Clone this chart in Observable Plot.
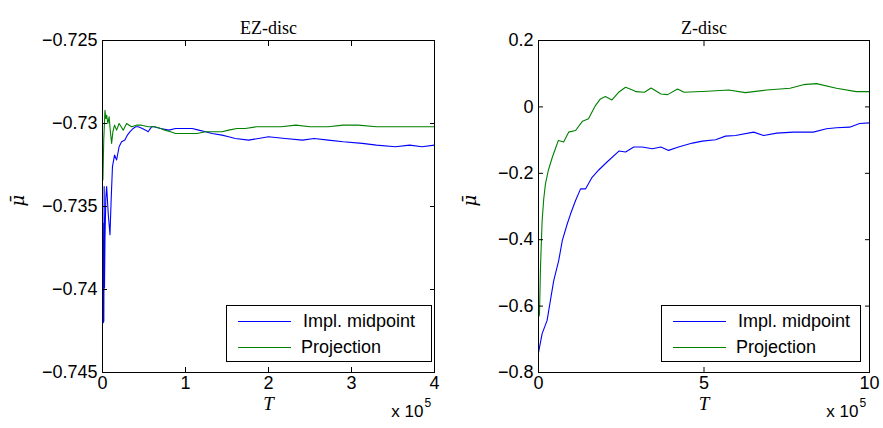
<!DOCTYPE html>
<html>
<head>
<meta charset="utf-8">
<script src="https://cdn.jsdelivr.net/npm/d3@7"></script>
<script src="https://cdn.jsdelivr.net/npm/@observablehq/plot@0.6"></script>
<style>
  body { margin: 0; background: #fff; }
  #wrap { position: relative; width: 883px; height: 428px; overflow: hidden; }
  #wrap svg { position: absolute; top: 0; }
  .legend { position: absolute; background: #fff; border: 1px solid #000; box-sizing: border-box;
            font-family: "Liberation Sans", Arial, sans-serif; font-size: 18px; color: #000; }
  .legend .row { position: absolute; left: 0; height: 22px; line-height: 22px; white-space: nowrap; }
  .legend .swatch { position: absolute; top: 11px; height: 1px; }
  .legend .lbl { position: absolute; top: 0; }
</style>
</head>
<body>
<div id="wrap"></div>
<script>
// ---------- data (T in units of 1e5) ----------
const panelTitles = ["EZ-disc", "Z-disc"];
const seriesNames = ["Impl. midpoint", "Projection"];
const seriesColors = ["#0000ff", "#008000"];

const ezTicksX = [0, 1, 2, 3, 4];
const ezTicksY = [-0.745, -0.74, -0.735, -0.73, -0.725];
const zTicksX = [0, 5, 10];
const zTicksY = [-0.8, -0.6, -0.4, -0.2, 0, 0.2];

const ezImplicit = [
  [0.004,-0.7360],[0.010,-0.7420],[0.016,-0.7419],[0.020,-0.7338],[0.024,-0.7399],[0.030,-0.7369],
  [0.040,-0.7345],[0.050,-0.7338],[0.070,-0.7355],[0.090,-0.7367],[0.105,-0.7345],[0.120,-0.7326],
  [0.145,-0.7319],[0.170,-0.7322],[0.200,-0.7314],[0.230,-0.7311],[0.270,-0.7310],[0.300,-0.7307],
  [0.330,-0.7305],[0.370,-0.7303],[0.400,-0.7302],[0.430,-0.7302],[0.480,-0.7303],[0.520,-0.7304],
  [0.550,-0.7305],[0.590,-0.7302],[0.620,-0.7302],[0.700,-0.7303],[0.800,-0.7304],[0.880,-0.7303],
  [0.960,-0.7303],[1.020,-0.7303],[1.080,-0.7303],[1.160,-0.7304],[1.240,-0.7305],[1.320,-0.7306],
  [1.440,-0.7307],[1.520,-0.7308],[1.600,-0.7309],[1.760,-0.7310],[1.880,-0.7309],[2.000,-0.7308],
  [2.200,-0.7309],[2.410,-0.7310],[2.550,-0.7309],[2.720,-0.7310],[2.900,-0.7311],[3.130,-0.7312],
  [3.300,-0.7313],[3.530,-0.7314],[3.700,-0.7313],[3.850,-0.7314],[4.000,-0.7313]
];
const ezProjection = [
  [0.005,-0.7334],[0.015,-0.7310],[0.030,-0.7292],[0.040,-0.7297],[0.050,-0.7295],[0.065,-0.7300],
  [0.080,-0.7296],[0.095,-0.7305],[0.110,-0.7312],[0.125,-0.7305],[0.145,-0.7301],[0.170,-0.7304],
  [0.200,-0.7300],[0.225,-0.7302],[0.250,-0.7304],[0.290,-0.7300],[0.350,-0.7302],[0.410,-0.7301],
  [0.470,-0.7301],[0.550,-0.7302],[0.630,-0.7302],[0.700,-0.7303],[0.750,-0.7304],[0.820,-0.7305],
  [0.880,-0.7306],[1.000,-0.7306],[1.140,-0.7306],[1.240,-0.7305],[1.350,-0.7305],[1.440,-0.7305],
  [1.520,-0.7304],[1.620,-0.7303],[1.720,-0.7303],[1.850,-0.7302],[2.000,-0.7302],[2.150,-0.7302],
  [2.330,-0.7301],[2.500,-0.7302],[2.720,-0.7302],[2.900,-0.7301],[3.080,-0.7301],[3.300,-0.7302],
  [3.530,-0.7302],[3.750,-0.7302],[4.000,-0.7302]
];
const zImplicit = [
  [0.00,-0.740],[0.11,-0.683],[0.26,-0.643],[0.36,-0.583],[0.46,-0.523],[0.61,-0.463],[0.72,-0.402],
  [0.87,-0.352],[0.97,-0.322],[1.12,-0.282],[1.27,-0.247],[1.42,-0.247],[1.62,-0.212],[1.82,-0.190],
  [2.07,-0.166],[2.43,-0.133],[2.63,-0.136],[2.88,-0.121],[3.13,-0.121],[3.44,-0.126],[3.70,-0.121],
  [3.93,-0.131],[4.23,-0.121],[4.65,-0.109],[4.95,-0.103],[5.35,-0.099],[5.65,-0.088],[5.95,-0.086],
  [6.50,-0.076],[6.80,-0.086],[7.20,-0.079],[7.70,-0.076],[8.30,-0.076],[8.70,-0.066],[9.00,-0.063],
  [9.40,-0.061],[9.70,-0.050],[10.0,-0.048]
];
const zProjection = [
  [0.02,-0.630],[0.03,-0.622],[0.06,-0.483],[0.11,-0.342],[0.16,-0.275],[0.21,-0.232],[0.30,-0.190],
  [0.42,-0.151],[0.51,-0.126],[0.60,-0.101],[0.76,-0.106],[0.91,-0.076],[1.12,-0.071],[1.33,-0.043],
  [1.51,-0.036],[1.72,0.004],[1.87,0.024],[2.02,0.031],[2.22,0.021],[2.42,0.044],[2.63,0.059],
  [2.84,0.051],[2.95,0.046],[3.20,0.044],[3.40,0.057],[3.70,0.039],[3.90,0.037],[4.20,0.054],
  [4.40,0.044],[5.10,0.047],[5.75,0.051],[6.25,0.043],[6.90,0.051],[7.60,0.056],[8.00,0.067],
  [8.40,0.070],[9.00,0.056],[9.60,0.046],[10.0,0.046]
];

// ---------- drawing ----------
const sans = "'Liberation Sans', Arial, sans-serif";
const serif = "'Liberation Serif', 'Times New Roman', serif";
const fmt = d => d3.format("~f")(d).replace("-", "\u2212");

function panel({title, xDomain, yDomain, xTicks, yTicks, series, left, width, marginLeft, marginRight, ylabelDx}) {
  const svg = Plot.plot({
    width, height: 428,
    marginLeft, marginRight, marginTop: 40, marginBottom: 56,
    style: {fontFamily: sans, fontSize: "18px", color: "#000", background: "transparent"},
    x: {domain: xDomain, ticks: xTicks},
    y: {domain: yDomain, ticks: yTicks},
    marks: [
      ...series.map((s, i) => Plot.line(s, {x: d => d[0], y: d => d[1], stroke: seriesColors[i], strokeWidth: 1.1})),
      Plot.frame({stroke: "#000", strokeWidth: 1}),
      Plot.axisX(xTicks, {anchor: "bottom", tickSize: -5, tickPadding: 9, tickFormat: fmt, label: null, fontSize: 18}),
      Plot.axisX(xTicks, {anchor: "top", tickSize: -5, tickFormat: () => "", label: null}),
      Plot.axisY(yTicks, {anchor: "left", tickSize: -5, tickPadding: 10, tickFormat: fmt, label: null, fontSize: 18}),
      Plot.axisY(yTicks, {anchor: "right", tickSize: -5, tickFormat: () => "", label: null}),
      Plot.text([title], {frameAnchor: "top", dy: -19, fontFamily: serif, fontSize: 18}),
      Plot.text(["T"], {frameAnchor: "bottom", dy: 37, fontFamily: serif, fontStyle: "italic", fontSize: 19}),
      Plot.text(["x 10"], {frameAnchor: "bottom-right", textAnchor: "end", dx: -11, dy: 44, fontFamily: sans, fontSize: 17}),
      Plot.text(["5"], {frameAnchor: "bottom-right", textAnchor: "start", dx: -10, dy: 34, fontFamily: sans, fontSize: 12}),
      Plot.text(["\u03BC\u0304"], {frameAnchor: "left", rotate: -90, dx: ylabelDx, dy: 0, fontFamily: "'DejaVu Serif', serif", fontStyle: "italic", fontSize: 18})
    ]
  });
  svg.style.left = left + "px";
  return svg;
}

const wrap = document.getElementById("wrap");
wrap.appendChild(panel({
  title: panelTitles[0], xDomain: [0, 4], yDomain: [-0.745, -0.725],
  xTicks: ezTicksX, yTicks: ezTicksY, series: [ezImplicit, ezProjection],
  left: 0, width: 441, marginLeft: 102, marginRight: 7, ylabelDx: -84
}));
wrap.appendChild(panel({
  title: panelTitles[1], xDomain: [0, 10], yDomain: [-0.8, 0.2],
  xTicks: zTicksX, yTicks: zTicksY, series: [zImplicit, zProjection],
  left: 441, width: 442, marginLeft: 97, marginRight: 14, ylabelDx: -68
}));

function legend(left, top, w, h) {
  const box = document.createElement("div");
  box.className = "legend";
  Object.assign(box.style, {left: left + "px", top: top + "px", width: w + "px", height: h + "px"});
  seriesNames.forEach((name, i) => {
    const row = document.createElement("div");
    row.className = "row";
    row.style.top = (4 + i * 26) + "px";
    row.style.width = w + "px";
    const sw = document.createElement("span");
    sw.className = "swatch";
    Object.assign(sw.style, {left: "11px", width: "53px", background: seriesColors[i]});
    const lb = document.createElement("span");
    lb.className = "lbl";
    lb.style.left = (i === 0 ? 76 : 74) + "px";
    lb.textContent = name;
    row.appendChild(sw); row.appendChild(lb);
    box.appendChild(row);
  });
  wrap.appendChild(box);
}
legend(226, 305, 206, 57);
legend(661, 305, 200, 57);
</script>
</body>
</html>
